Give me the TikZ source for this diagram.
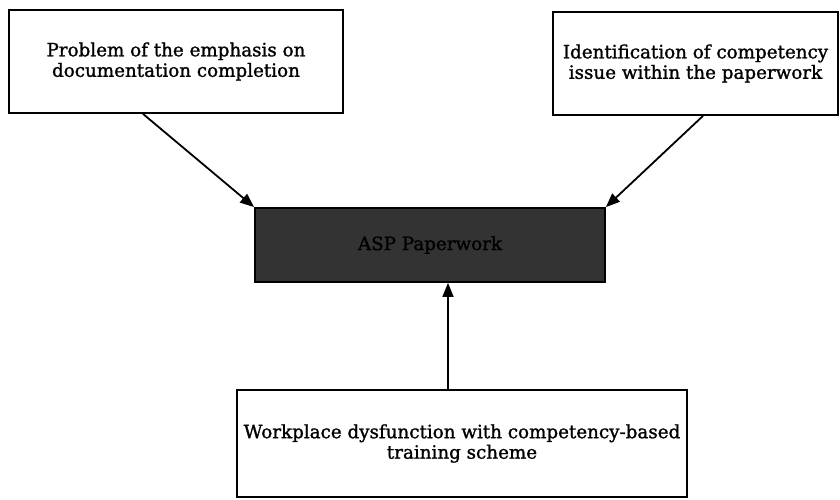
\documentclass[tikz,border=0pt]{standalone}
\usepackage{fontspec}
\setmainfont{DejaVu Serif}[UprightFeatures={FakeBold=1.3}]
\usetikzlibrary{arrows.meta}
\begin{document}
\begin{tikzpicture}[x=1pt,y=-1pt,
  box/.style={draw=black, line width=1.8pt, align=center, inner sep=0pt, font=\fontsize{18.3}{20.5}\selectfont},
  conn/.style={line width=1.8pt, -{Triangle[length=14pt,width=11pt]}}]
\useasboundingbox (0,0) rectangle (840,500);
\node[box, minimum width=334pt, minimum height=103pt] (tl) at (176,61.5) {Problem of the emphasis on\\documentation completion};
\node[box, minimum width=285pt, minimum height=103pt] (tr) at (695.5,63.5) {Identification of competency\\issue within the paperwork};
\node[box, fill=black!80, minimum width=350pt, minimum height=74pt] (asp) at (430,245) {ASP Paperwork};
\node[box, minimum width=450pt, minimum height=107pt] (wd) at (462,443.5) {Workplace dysfunction with competency-based\\training scheme};
\draw[conn] ([xshift=-33pt]tl.south) -- (asp.north west);
\draw[conn] ([xshift=7.5pt]tr.south) -- (asp.north east);
\draw[conn] ([xshift=-14pt]wd.north) -- ([xshift=-14pt]wd.north |- asp.south);
\end{tikzpicture}
\end{document}
